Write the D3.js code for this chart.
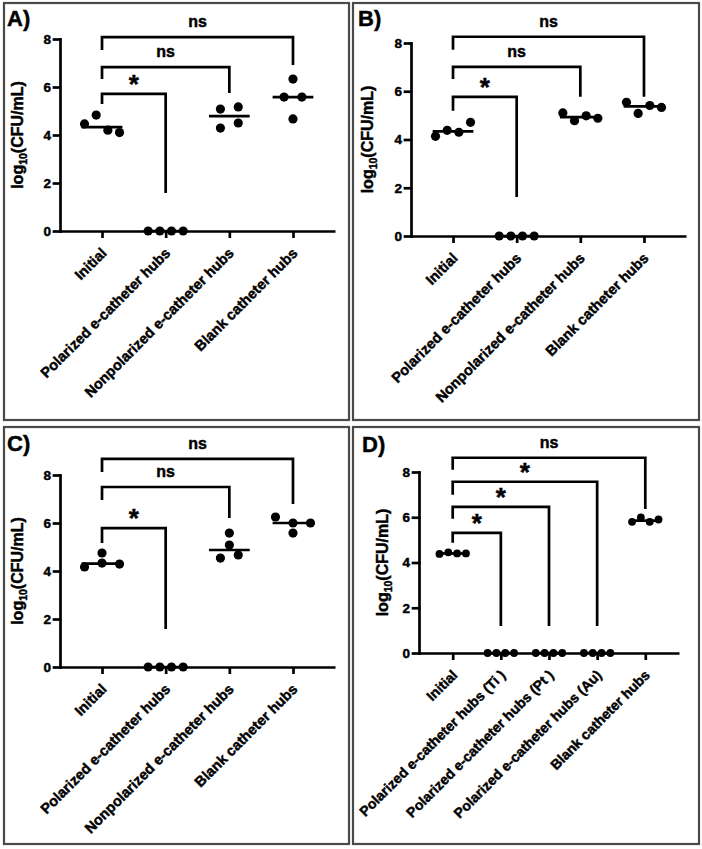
<!DOCTYPE html>
<html><head><meta charset="utf-8">
<script src="https://cdn.jsdelivr.net/npm/d3@7"></script>
<style>
body{margin:0;background:#fff}
svg{display:block}
text{font-family:"Liberation Sans",Arial,Helvetica,sans-serif;font-weight:bold;fill:#000;stroke:#000;stroke-width:0.45px}
</style>
</head><body>
<svg id="c" width="702" height="849"></svg>
<script>
// ---------------- data ----------------
const yTicks = [0, 2, 4, 6, 8];
const categoriesABC = ["Initial", "Polarized e-catheter hubs", "Nonpolarized e-catheter hubs", "Blank catheter hubs"];
const categoriesD = ["Initial", "Polarized e-catheter hubs (Ti )", "Polarized e-catheter hubs (Pt )", "Polarized e-catheter hubs (Au)", "Blank catheter hubs"];

const valuesA = [[4.46, 4.83, 4.2, 4.1], [0, 0, 0, 0], [5.08, 5.17, 4.29, 4.5], [6.33, 5.58, 5.58, 4.67]];
const valuesB = [[4.13, 4.38, 4.3, 4.71], [0, 0, 0, 0], [5.1, 4.78, 4.98, 4.88], [5.54, 5.08, 5.41, 5.33]];
const valuesC = [[4.17, 4.75, 4.33, 4.29], [0, 0, 0, 0], [5.58, 5.08, 4.54, 4.67], [6.25, 6.0, 5.58, 6.0]];
const valuesD = [[4.38, 4.45, 4.4, 4.4], [0, 0, 0, 0], [0, 0, 0, 0], [0, 0, 0, 0], [5.8, 5.99, 5.8, 5.9]];

// significance brackets: from/to category index, label, top / left-leg end / right-leg end (log10 units)
const bracketsA = [
  {from: 0, to: 1, label: "*",  top: 5.71, left: 5.29, right: 1.58},
  {from: 0, to: 2, label: "ns", top: 6.83, left: 6.33, right: 5.75},
  {from: 0, to: 3, label: "ns", top: 8.08, left: 7.54, right: 6.92}
];
const bracketsB = [
  {from: 0, to: 1, label: "*",  top: 5.77, left: 5.19, right: 1.62},
  {from: 0, to: 2, label: "ns", top: 7.01, left: 6.51, right: 5.77},
  {from: 0, to: 3, label: "ns", top: 8.26, left: 7.72, right: 5.77}
];
const bracketsC = [
  {from: 0, to: 1, label: "*",  top: 5.79, left: 5.17, right: 1.58},
  {from: 0, to: 2, label: "ns", top: 7.5,  left: 6.96, right: 6.21},
  {from: 0, to: 3, label: "ns", top: 8.67, left: 8.13, right: 6.79}
];
const bracketsD = [
  {from: 0, to: 1, label: "*",  top: 5.31, left: 4.87, right: 1.19},
  {from: 0, to: 2, label: "*",  top: 6.46, left: 5.93, right: 1.19},
  {from: 0, to: 3, label: "*",  top: 7.57, left: 6.99, right: 1.19},
  {from: 0, to: 4, label: "ns", top: 8.63, left: 8.1,  right: 6.37}
];

// ---------------- layout ----------------
const panels = [
  {letter: "A)", cats: categoriesABC, vals: valuesA, br: bracketsA, xfs: 14.5,
   fx: 4, fy: 3, fw: 345, fh: 417, x0: 60, x1: 335, yT: 39, yB: 231, pad: 0.66, r: 4.6, lx: 23, letX: 7, letY: 26},
  {letter: "B)", cats: categoriesABC, vals: valuesB, br: bracketsB, xfs: 14.5,
   fx: 353, fy: 3, fw: 346, fh: 417, x0: 411, x1: 686, yT: 43, yB: 236, pad: 0.66, r: 4.6, lx: 373, letX: 358, letY: 26},
  {letter: "C)", cats: categoriesABC, vals: valuesC, br: bracketsC, xfs: 14.5,
   fx: 4, fy: 427, fw: 345, fh: 417, x0: 60, x1: 335, yT: 475, yB: 667, pad: 0.66, r: 4.6, lx: 23, letX: 7, letY: 451},
  {letter: "D)", cats: categoriesD, vals: valuesD, br: bracketsD, xfs: 14,
   fx: 353, fy: 427, fw: 346, fh: 417, x0: 419, x1: 679, yT: 472, yB: 653, pad: 0.7, r: 3.9, lx: 388, letX: 362, letY: 452}
];

const svg = d3.select("#c");
const SW = 2.7;

panels.forEach(p => {
  const g = svg.append("g");
  g.append("rect").attr("x", p.fx).attr("y", p.fy).attr("width", p.fw).attr("height", p.fh)
    .attr("fill", "none").attr("stroke", "#4a4a4a").attr("stroke-width", 2.2);
  g.append("text").attr("x", p.letX).attr("y", p.letY).attr("font-size", 22).text(p.letter);

  const x = d3.scalePoint().domain(p.cats.map((d, i) => i)).range([p.x0, p.x1]).padding(p.pad);
  const y = d3.scaleLinear().domain([0, 8]).range([p.yB, p.yT]);
  const step = x.step();

  // y axis
  const ya = g.append("g").attr("transform", `translate(${p.x0},0)`)
    .call(d3.axisLeft(y).tickValues(yTicks).tickSize(6).tickSizeOuter(0).tickPadding(3));
  ya.selectAll("path,line").attr("stroke", "#000").attr("stroke-width", SW).attr("stroke-linecap", "square");
  ya.selectAll("text").attr("font-size", 13.5).attr("font-family", null).style("font-weight", "bold");

  // x axis
  const xa = g.append("g").attr("transform", `translate(0,${p.yB})`)
    .call(d3.axisBottom(x).tickSize(7).tickSizeOuter(0).tickFormat(i => p.cats[i]));
  xa.selectAll("path,line").attr("stroke", "#000").attr("stroke-width", SW);
  xa.selectAll("text").attr("font-size", p.xfs).attr("font-family", null).style("font-weight", "bold")
    .attr("x", 0).attr("y", 0).attr("dy", 0)
    .attr("text-anchor", "end")
    .attr("transform", "translate(5,23) rotate(-45)");

  // y label
  const yl = g.append("text").attr("font-size", 16).attr("text-anchor", "middle")
    .attr("transform", `translate(${p.lx},${(p.yT + p.yB) / 2}) rotate(-90)`);
  yl.append("tspan").text("log");
  yl.append("tspan").attr("font-size", 10.5).attr("dy", 4).text("10");
  yl.append("tspan").attr("dy", -4).text("(CFU/mL)");

  // brackets
  p.br.forEach(b => {
    const xl = x(b.from), xr = x(b.to);
    g.append("path")
      .attr("d", `M${xl},${y(b.left)}V${y(b.top)}H${xr}V${y(b.right)}`)
      .attr("fill", "none").attr("stroke", "#000").attr("stroke-width", SW);
    const t = g.append("text").attr("x", (xl + xr) / 2).attr("text-anchor", "middle").text(b.label);
    if (b.label === "*") t.attr("font-size", 26).attr("y", y(b.top) - 1);
    else t.attr("font-size", 16).attr("y", y(b.top) - 10);
  });

  // dots (rows of near-equal values spread horizontally) + median lines
  p.vals.forEach((vals, ci) => {
    const cx = x(ci);
    const pts = vals.map((v, i) => ({v, i, py: y(v)}));
    const sorted = pts.slice().sort((a, b) => b.v - a.v || a.i - b.i);
    const rows = [];
    sorted.forEach(pt => {
      const last = rows[rows.length - 1];
      if (last && Math.abs(last[last.length - 1].py - pt.py) < 2 * p.r) last.push(pt);
      else rows.push([pt]);
    });
    rows.forEach(row => {
      row.sort((a, b) => a.i - b.i);
      const k = row.length;
      const w = Math.min((k - 1) * 0.28, 0.55) * step;
      row.forEach((pt, j) => { pt.px = k === 1 ? cx : cx - w / 2 + j * w / (k - 1); });
    });
    const med = d3.median(vals);
    g.append("line").attr("x1", cx - 0.32 * step).attr("x2", cx + 0.32 * step)
      .attr("y1", y(med)).attr("y2", y(med)).attr("stroke", "#000").attr("stroke-width", SW);
    g.selectAll(null).data(pts).join("circle")
      .attr("cx", d => d.px).attr("cy", d => d.py).attr("r", p.r).attr("fill", "#000");
  });
});
</script>
</body></html>
